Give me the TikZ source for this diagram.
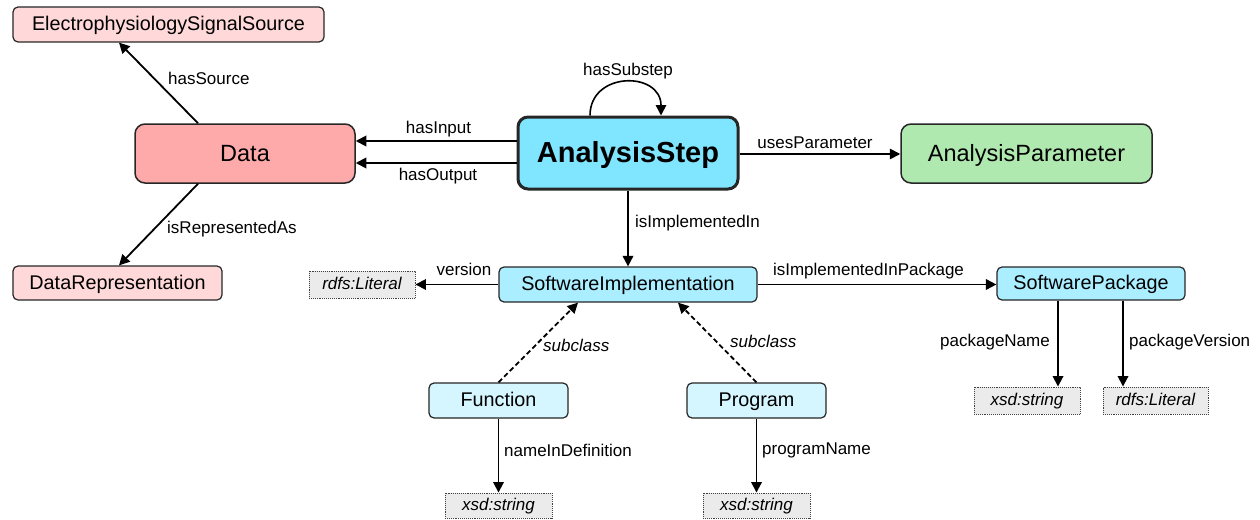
\documentclass[tikz,border=0pt]{standalone}
\usepackage{fontspec}
\setmainfont{Liberation Sans}
\usetikzlibrary{arrows.meta}

\definecolor{datared}{HTML}{FFAAAA}
\definecolor{datapink}{HTML}{FFD9D9}
\definecolor{stepcyan}{HTML}{80E5FF}
\definecolor{swcyan}{HTML}{AAEEFF}
\definecolor{subcyan}{HTML}{D5F6FF}
\definecolor{paramgreen}{HTML}{AFE9AF}
\definecolor{litgray}{HTML}{EBEBEB}

\tikzset{
  cls/.style={draw=black!85, rounded corners=5pt, line width=1.2pt, inner sep=0pt,
    font=\fontsize{19.8}{24}\selectfont, text height=16.35pt, text depth=3.45pt},
  bigcls/.style={cls, rounded corners=10pt, line width=1.5pt,
    font=\fontsize{23.5}{28}\selectfont, text height=19.6pt, text depth=3.9pt},
  lit/.style={draw=black!75, densely dotted, line width=0.9pt, fill=litgray, inner sep=0pt,
    font=\fontsize{17}{20}\selectfont\itshape, text height=13.25pt, text depth=3.75pt},
  lbl/.style={inner sep=0pt, font=\fontsize{17}{20}\selectfont,
    text height=12.75pt, text depth=4.25pt},
  rel/.style={-{Triangle[length=10.5pt,width=10.5pt]}, line width=1.8pt},
  sub/.style={rel, dash pattern=on 5pt off 3pt},
}

\begin{document}
\begin{tikzpicture}[x=1pt, y=-1pt]
\useasboundingbox (0,0) rectangle (1260,519);

% classes
\node[cls, fill=datapink, minimum width=311pt, minimum height=35pt] (ess) at (168.5,24.5) {ElectrophysiologySignalSource};
\node[bigcls, fill=datared, minimum width=220pt, minimum height=59pt] (data) at (245,153.5) {Data};
\node[cls, fill=datapink, minimum width=209pt, minimum height=34pt] (rep) at (117.5,283) {DataRepresentation};
\node[bigcls, fill=stepcyan, line width=3pt, minimum width=220pt, minimum height=72pt,
      font=\fontsize{29}{34}\selectfont\bfseries, text height=23.75pt, text depth=5.25pt] (step) at (628,153) {AnalysisStep};
\node[bigcls, fill=paramgreen, minimum width=251pt, minimum height=59pt] (param) at (1026.5,153.5) {AnalysisParameter};
\node[cls, fill=swcyan, minimum width=258pt, minimum height=35pt] (impl) at (628,284.5) {SoftwareImplementation};
\node[cls, fill=swcyan, minimum width=188pt, minimum height=33pt] (pkg) at (1091,283.5) {SoftwarePackage};
\node[cls, fill=subcyan, minimum width=139pt, minimum height=35pt] (func) at (498.5,400.5) {Function};
\node[cls, fill=subcyan, minimum width=139pt, minimum height=35pt] (prog) at (756.5,400.5) {Program};

% literal values
\node[lit, minimum width=106pt, minimum height=27pt] (litver) at (362,284.5) {rdfs:Literal};
\node[lit, minimum width=107pt, minimum height=25pt] (strfunc) at (498.5,505.5) {xsd:string};
\node[lit, minimum width=107pt, minimum height=25pt] (strprog) at (756.5,505.5) {xsd:string};
\node[lit, minimum width=106pt, minimum height=27pt] (strpkg) at (1027,400.5) {xsd:string};
\node[lit, minimum width=105pt, minimum height=27pt] (litpkg) at (1155.5,400.5) {rdfs:Literal};

% relations
\draw[rel] (data.north -| 198,0) -- (ess.south -| 119,0);
\draw[rel] (data.south -| 198,0) -- (rep.north -| 119,0);
\draw[rel] (step.west |- 0,141) -- (data.east |- 0,141);
\draw[rel] (step.west |- 0,163) -- (data.east |- 0,163);
\draw[rel] (step.east |- 0,154) -- (param.west |- 0,154);
\draw[rel, line width=1.6pt] (step.north -| 590,0) .. controls (590,71) and (661,71) .. (step.north -| 661,0);
\draw[rel] (step.south) -- (impl.north);
\draw[rel] (impl.west) -- (litver.east);
\draw[rel] (impl.east) -- (pkg.west |- impl.east);
\draw[sub] (func.north) -- (impl.south -| 578,0);
\draw[sub] (prog.north) -- (impl.south -| 678,0);
\draw[rel] (func.south) -- (strfunc.north);
\draw[rel] (prog.south) -- (strprog.north);
\draw[rel] (pkg.south -| 1058,0) -- (strpkg.north -| 1058,0);
\draw[rel] (pkg.south -| 1123,0) -- (litpkg.north -| 1123,0);

% relation labels
\node[lbl, anchor=west] (lsource) at (168,80) {hasSource};
\node[lbl, anchor=west] (lrep) at (167,229) {isRepresentedAs};
\node[lbl] (lin) at (438.5,129) {hasInput};
\node[lbl] (lout) at (438,176) {hasOutput};
\node[lbl] (lsubstep) at (628,71) {hasSubstep};
\node[lbl] (luses) at (815,144) {usesParameter};
\node[lbl, anchor=west] (limpl) at (635,223) {isImplementedIn};
\node[lbl] (lver) at (464,271) {version};
\node[lbl] (lpkg) at (868.5,271) {isImplementedInPackage};
\node[lbl, anchor=west, font=\fontsize{17}{20}\selectfont\itshape] (lsubf) at (543,347) {subclass};
\node[lbl, anchor=west, font=\fontsize{17}{20}\selectfont\itshape] (lsubp) at (730,343) {subclass};
\node[lbl, anchor=west] (lname) at (504,452) {nameInDefinition};
\node[lbl, anchor=west] (lprog) at (762,450) {programName};
\node[lbl, anchor=east] (lpname) at (1050,342) {packageName};
\node[lbl, anchor=west] (lpver) at (1129,342) {packageVersion};
\end{tikzpicture}
\end{document}
